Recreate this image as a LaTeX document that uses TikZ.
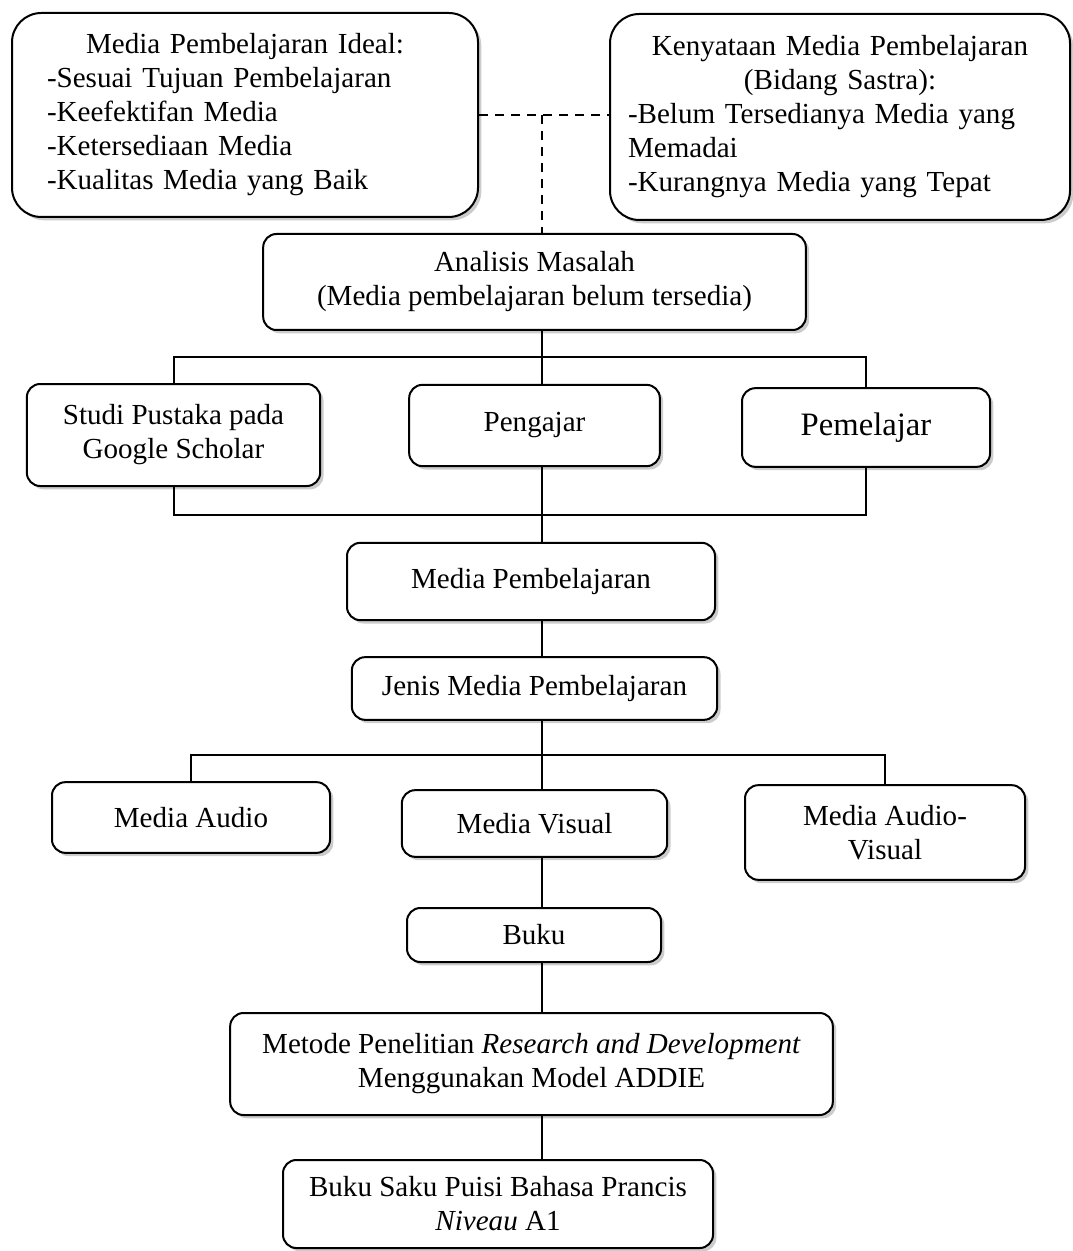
\documentclass[tikz,border=0pt]{standalone}
\usepackage{fontspec}
\setmainfont{Liberation Serif}
\usetikzlibrary{shadows}

\tikzset{
  kotak/.style={draw,line width=1.5pt,rounded corners=10pt,fill=white,align=center,
    font=\fontsize{21.8}{25.5}\selectfont,
    drop shadow={opacity=0.4,shadow xshift=2.5pt,shadow yshift=-2.5pt}},
  garis/.style={line width=1.5pt}
}

\begin{document}
\begin{tikzpicture}[x=0.75pt,y=-0.75pt]
        \useasboundingbox (0,0) rectangle (1072,1251);
        \node[kotak,rounded corners=22pt,minimum width=349.5pt,minimum height=153pt,text width=297pt,align=left](ideal) at (245,115)
          {\makebox[\hsize]{Media Pembelajaran Ideal:}\\-Sesuai Tujuan Pembelajaran\\-Keefektifan Media\\-Ketersediaan Media\\-Kualitas Media yang Baik};
        \node[kotak,rounded corners=22pt,minimum width=345pt,minimum height=154.5pt,text width=318pt,align=left](nyata) at (840,117)
          {\makebox[\hsize]{Kenyataan Media Pembelajaran}\\\makebox[\hsize]{(Bidang Sastra):}\\-Belum Tersedianya Media yang\\Memadai\\-Kurangnya Media yang Tepat};
        \node[kotak,minimum width=407pt,minimum height=72pt](analisis) at (534.5,282){Analisis Masalah\\(Media pembelajaran belum tersedia)};
        \node[kotak,minimum width=220pt,minimum height=76.5pt](studi) at (173.5,435){Studi Pustaka pada\\Google Scholar};
        \node[kotak,minimum width=188pt,minimum height=61pt](pengajar) at (534.5,425.5){Pengajar};
        \node[kotak,minimum width=186pt,minimum height=59pt,font=\fontsize{24.5}{28}\selectfont](pemelajar) at (866,427.5){Pemelajar};
        \node[kotak,minimum width=276pt,minimum height=58pt](mediapemb) at (531,581.5){Media Pembelajaran};
        \node[kotak,minimum width=274pt,minimum height=47pt](jenis) at (534.5,688.5){Jenis Media Pembelajaran};
        \node[kotak,minimum width=208.5pt,minimum height=53pt](audio) at (191,817.5){Media Audio};
        \node[kotak,minimum width=199pt,minimum height=50pt](visual) at (534.5,823.5){Media Visual};
        \node[kotak,minimum width=210pt,minimum height=71pt](av) at (885,832.5){Media Audio-\\Visual};
        \node[kotak,minimum width=190.5pt,minimum height=40.5pt](buku) at (534,935){Buku};
        \node[kotak,minimum width=452pt,minimum height=76.5pt](metode) at (531.5,1064){Metode Penelitian \textit{Research and Development}\\Menggunakan Model ADDIE};
        \node[kotak,minimum width=322.5pt,minimum height=66pt](saku) at (498,1204){Buku Saku Puisi Bahasa Prancis\\\textit{Niveau} A1};
        \coordinate(sumbu) at (542,0);
        \coordinate(bar1) at (542,357);
        \coordinate(bar2) at (542,515);
        \coordinate(bar3) at (542,755);
        \draw[garis,dashed,dash pattern=on 7pt off 5pt](ideal.east)--(ideal.east-|nyata.west);
        \draw[garis,dashed,dash pattern=on 7pt off 5pt](ideal.east-|sumbu)--(analisis.north-|sumbu);
        \draw[garis](studi.north)|-(pemelajar.north|-bar1)--(pemelajar.north);
        \draw[garis](analisis.south-|sumbu)--(pengajar.north-|sumbu);
        \draw[garis](studi.south)|-(pemelajar.south|-bar2)--(pemelajar.south);
        \draw[garis](pengajar.south-|sumbu)--(mediapemb.north-|sumbu);
        \draw[garis](mediapemb.south-|sumbu)--(jenis.north-|sumbu);
        \draw[garis](audio.north)|-(av.north|-bar3)--(av.north);
        \draw[garis](jenis.south-|sumbu)--(visual.north-|sumbu);
        \draw[garis](visual.south-|sumbu)--(buku.north-|sumbu);
        \draw[garis](buku.south-|sumbu)--(metode.north-|sumbu);
        \draw[garis](metode.south-|sumbu)--(saku.north-|sumbu);
    \end{tikzpicture}
\end{document}
